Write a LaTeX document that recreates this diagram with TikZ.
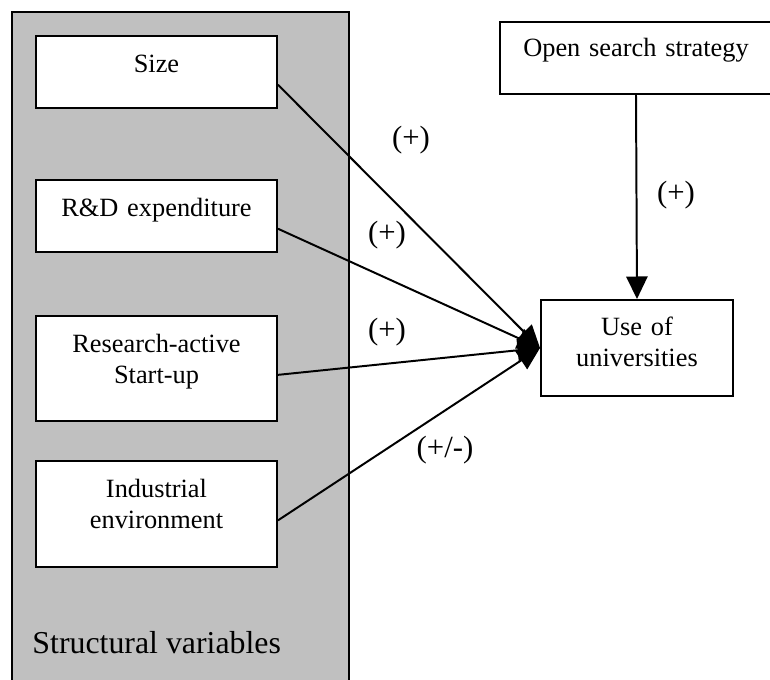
\documentclass[tikz,border=0pt]{standalone}
\usepackage{fontspec}
\setmainfont{Liberation Serif}
\usepackage{xcolor}
\usetikzlibrary{arrows.meta,calc,positioning}
\definecolor{panelgrey}{RGB}{192,192,192}
\tikzset{
	varbox/.style={draw,fill=white,line width=0.9pt,inner sep=0pt,align=center,anchor=north,text height=0.59cm,font=\fontsize{12}{13.8}\selectfont},
	effect/.style={line width=0.9pt,-{Triangle[length=0.36cm,width=0.34cm]}},
	sign/.style={font=\fontsize{14}{16}\selectfont}
}
\begin{document}
\begin{tikzpicture}
		\useasboundingbox (0,0) rectangle (12.32,10.864);
		\clip (0,0) rectangle (12.32,10.864);
		% grey panel
		\draw[line width=0.8pt,fill=panelgrey] (0.192,-0.2) -- (0.192,10.672) -- (5.584,10.672) -- (5.584,-0.2);
		\node[varbox,text width=3.856cm,text depth=0.562cm] (size) at (2.504,10.304) {Size};
		\node[varbox,text width=3.856cm,text depth=0.562cm] (rd) at (2.504,8.0) {R\&D expenditure};
		\node[varbox,text width=3.856cm,text depth=1.09cm] (active) at (2.504,5.824) {Research-active\\Start-up};
		\node[varbox,text width=3.856cm,text depth=1.106cm] (industry) at (2.504,3.504) {Industrial\\environment};
		\node[sign,font=\fontsize{14.5}{16}\selectfont,anchor=west,inner sep=0pt] (structural) at (0.512,0.576) {Structural variables};
		% right side
		\node[varbox,text width=4.352cm,text height=0.56cm,text depth=0.592cm] (open) at (10.176,10.528) {Open search strategy};
		\node[varbox,text width=3.072cm,text height=0.576cm,text depth=0.96cm] (use) at (10.192,6.08) {Use of\\universities};
		\draw[effect] (size.-6) -- (use.west);
		\draw[effect] (rd.-6) -- (use.west);
		\draw[effect] (active.-3) -- (use.west);
		\draw[effect] (industry.-3) -- (use.west);
		\draw[effect] (open.south) -- (use.north);
		\node[sign] (psize) at (6.576,8.624) {(+)};
		\node[sign] (prd) at (6.192,7.104) {(+)};
		\node[sign] (pactive) at (6.192,5.552) {(+)};
		\node[sign] (pindustry) at (7.12,3.664) {(+/-)};
		\node[sign] (popen) at (10.816,7.744) {(+)};
\end{tikzpicture}
\end{document}
